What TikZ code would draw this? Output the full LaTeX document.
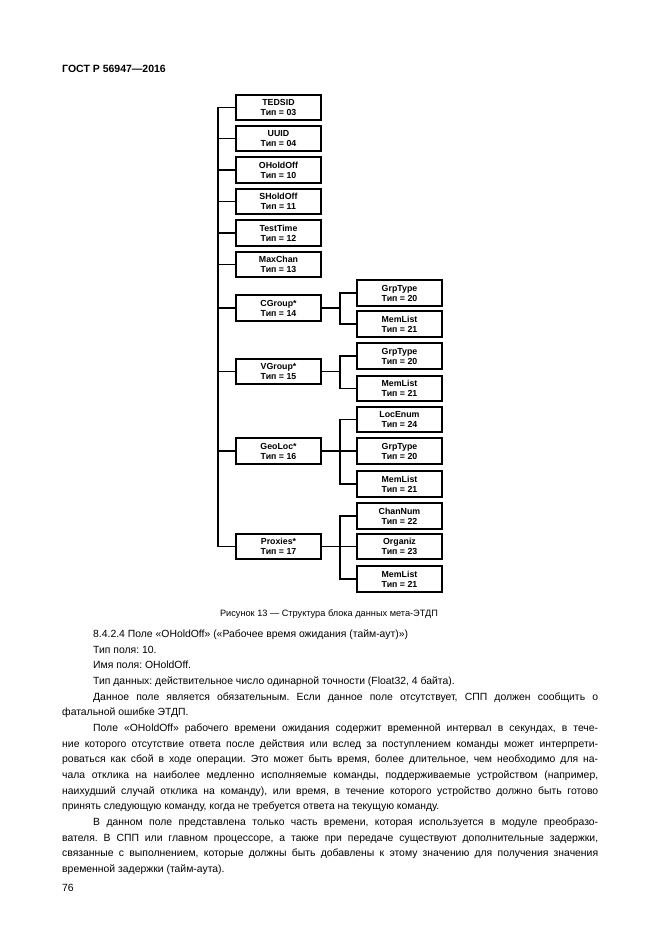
\documentclass[tikz,border=0pt]{standalone}
\usepackage{fontspec}
\setmainfont{Liberation Sans}
\frenchspacing
\begin{document}
\begin{tikzpicture}[
    x=1pt, y=-1pt,
    field/.style={draw, line width=1.9pt, minimum width=85pt, minimum height=25.5pt, inner sep=0pt,
                  font=\fontsize{8.8}{10}\selectfont\bfseries, align=center},
    link/.style={line width=1.8pt},
    body/.style={anchor=base west, inner sep=0pt, font=\fontsize{10.4}{12}\selectfont}
]
\useasboundingbox (0,0) rectangle (661,935);

% Header
\node[anchor=base west, inner sep=0pt, font=\fontsize{10.5}{12}\selectfont\bfseries] (head) at (62,72) {ГОСТ Р 56947—2016};

% Left column - Fields
\node[field] (tedsid)   at (278.5,107.5) {TEDSID\\Тип = 03};
\node[field] (uuid)     at (278.5,138.5) {UUID\\Тип = 04};
\node[field] (ohold)    at (278.5,170)   {OHoldOff\\Тип = 10};
\node[field] (shold)    at (278.5,201.5) {SHoldOff\\Тип = 11};
\node[field] (testtime) at (278.5,233)   {TestTime\\Тип = 12};
\node[field] (maxchan)  at (278.5,264.5) {MaxChan\\Тип = 13};
\node[field] (cgroup)   at (278.5,308)   {CGroup*\\Тип = 14};
\node[field] (vgroup)   at (278.5,371.5) {VGroup*\\Тип = 15};
\node[field] (geoloc)   at (278.5,451)   {GeoLoc*\\Тип = 16};
\node[field] (proxies)  at (278.5,546.5) {Proxies*\\Тип = 17};

% Right column - Subfields
\node[field] (cg-grp) at (399.5,293)   {GrpType\\Тип = 20};
\node[field] (cg-mem) at (399.5,324)   {MemList\\Тип = 21};
\node[field] (vg-grp) at (399.5,356)   {GrpType\\Тип = 20};
\node[field] (vg-mem) at (399.5,388.5) {MemList\\Тип = 21};
\node[field] (ge-loc) at (399.5,419.5) {LocEnum\\Тип = 24};
\node[field] (ge-grp) at (399.5,451)   {GrpType\\Тип = 20};
\node[field] (ge-mem) at (399.5,484)   {MemList\\Тип = 21};
\node[field] (px-chn) at (399.5,516)   {ChanNum\\Тип = 22};
\node[field] (px-org) at (399.5,546.5) {Organiz\\Тип = 23};
\node[field] (px-mem) at (399.5,579)   {MemList\\Тип = 21};

% Connectors
\coordinate (spine)  at (218,0);
\coordinate (branch) at (340,0);
\draw[link] (tedsid.west) -- (tedsid.west -| spine) |- (proxies.west);
\draw[link] (uuid.west) -- (uuid.west -| spine);
\draw[link] (ohold.west) -- (ohold.west -| spine);
\draw[link] (shold.west) -- (shold.west -| spine);
\draw[link] (testtime.west) -- (testtime.west -| spine);
\draw[link] (maxchan.west) -- (maxchan.west -| spine);
\draw[link] (cgroup.west) -- (cgroup.west -| spine);
\draw[link] (vgroup.west) -- (vgroup.west -| spine);
\draw[link] (geoloc.west) -- (geoloc.west -| spine);

\draw[link] (cg-grp.west) -- (cg-grp.west -| branch) |- (cg-mem.west);
\draw[link] (cgroup.east) -- (cgroup.east -| branch);
\draw[link] (vg-grp.west) -- (vg-grp.west -| branch) |- (vg-mem.west);
\draw[link] (vgroup.east) -- (vgroup.east -| branch);
\draw[link] (ge-loc.west) -- (ge-loc.west -| branch) |- (ge-mem.west);
\draw[link] (geoloc.east) -- (ge-grp.west);
\draw[link] (px-chn.west) -- (px-chn.west -| branch) |- (px-mem.west);
\draw[link] (proxies.east) -- (px-org.west);

% Caption
\node[anchor=base, inner sep=0pt, font=\fontsize{9.2}{11}\selectfont] (caption) at (329,616) {Рисунок 13 — Структура блока данных мета-ЭТДП};

% Body text
\node[body] (l1)  at (93,637.5)  {8.4.2.4 Поле «OHoldOff» («Рабочее время ожидания (тайм-аут)»)};
\node[body] (l2)  at (93,653.2)  {Тип поля: 10.};
\node[body] (l3)  at (93,668.8)  {Имя поля: OHoldOff.};
\node[body] (l4)  at (93,684.5)  {Тип данных: действительное число одинарной точности (Float32, 4 байта).};
\node[body] (l5)  at (93,700.1)  {\makebox[505pt][s]{Данное поле является обязательным. Если данное поле отсутствует, СПП должен сообщить о}};
\node[body] (l6)  at (62,715.8)  {фатальной ошибке ЭТДП.};
\node[body] (l7)  at (93,731.4)  {\makebox[505pt][s]{Поле «OHoldOff» рабочего времени ожидания содержит временной интервал в секундах, в тече-}};
\node[body] (l8)  at (62,747.1)  {\makebox[536pt][s]{ние которого отсутствие ответа после действия или вслед за поступлением команды может интерпрети-}};
\node[body] (l9)  at (62,762.7)  {\makebox[536pt][s]{роваться как сбой в ходе операции. Это может быть время, более длительное, чем необходимо для на-}};
\node[body] (l10) at (62,778.4)  {\makebox[536pt][s]{чала отклика на наиболее медленно исполняемые команды, поддерживаемые устройством (например,}};
\node[body] (l11) at (62,794.0)  {\makebox[536pt][s]{наихудший случай отклика на команду), или время, в течение которого устройство должно быть готово}};
\node[body] (l12) at (62,809.7)  {принять следующую команду, когда не требуется ответа на текущую команду.};
\node[body] (l13) at (93,825.3)  {\makebox[505pt][s]{В данном поле представлена только часть времени, которая используется в модуле преобразо-}};
\node[body] (l14) at (62,841.0)  {\makebox[536pt][s]{вателя. В СПП или главном процессоре, а также при передаче существуют дополнительные задержки,}};
\node[body] (l15) at (62,856.6)  {\makebox[536pt][s]{связанные с выполнением, которые должны быть добавлены к этому значению для получения значения}};
\node[body] (l16) at (62,872.3)  {временной задержки (тайм-аута).};

% Page number
\node[body] (page) at (62,891) {76};
\end{tikzpicture}
\end{document}
